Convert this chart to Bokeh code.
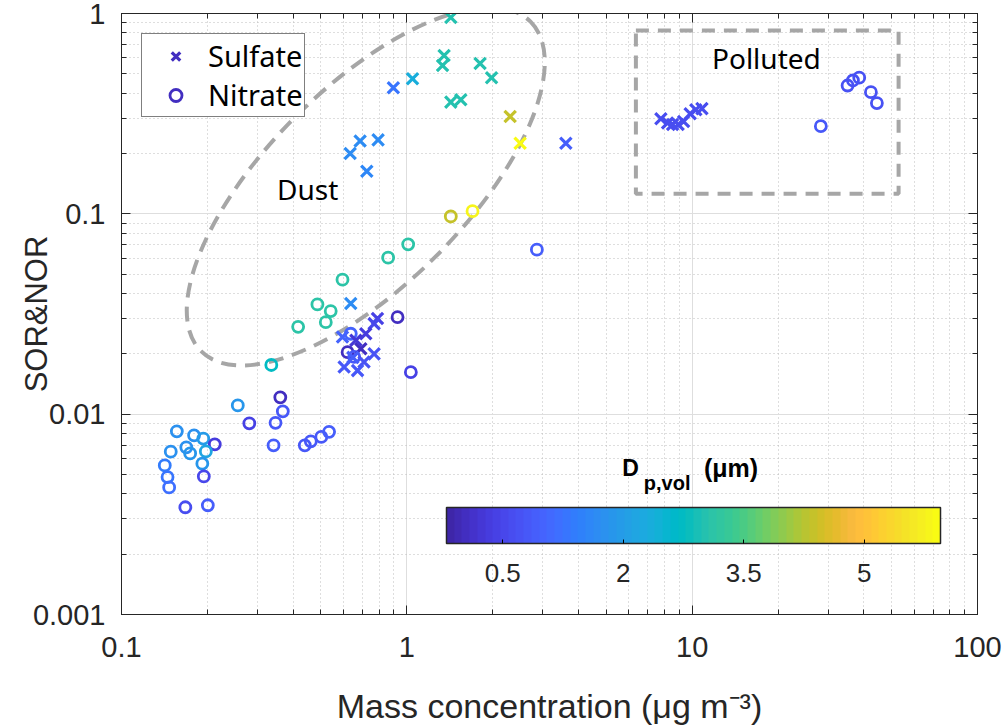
from math import pi

from bokeh.core.properties import value
from bokeh.embed import file_html
from bokeh.models import (BoxAnnotation, ColorBar, ColumnDataSource, FixedTicker,
                          Legend, LegendItem, LinearColorMapper, LogAxis,
                          LogTicker, NumeralTickFormatter)
from bokeh.plotting import figure
from bokeh.resources import INLINE

# sulfate (SOR): mass concentration, ratio, volume median diameter
sulfate_mass = [0.633, 0.686, 0.793, 0.724, 0.897, 1.047, 1.351, 1.334, 1.806,
                1.981, 1.426, 1.546, 1.426, 2.302, 2.495, 3.608,
                0.636, 0.789, 0.768, 0.718, 0.595, 0.690, 0.768, 0.708, 0.603,
                0.672, 0.663, 0.647,
                7.77, 8.20, 8.54, 8.93, 9.33, 9.84, 10.30, 10.82]
sulfate_ratio = [0.200, 0.231, 0.234, 0.163, 0.426, 0.472, 0.617, 0.550, 0.563,
                 0.478, 0.361, 0.371, 0.955, 0.306, 0.225, 0.225,
                 0.0357, 0.0300, 0.0283, 0.0252, 0.0243, 0.0212, 0.0200, 0.0182,
                 0.0172, 0.0165, 0.0234, 0.0192,
                 0.298, 0.284, 0.279, 0.279, 0.289, 0.316, 0.331, 0.335]
sulfate_dp = [1.7, 1.7, 1.7, 1.6, 1.3, 2.3, 3.0, 3.0, 3.0,
              3.0, 3.0, 3.0, 3.0, 4.4, 5.9, 0.9,
              1.7, 0.4, 0.5, 0.3, 1.0, 0.0, 0.7, 0.7, 0.8,
              0.8, 0.2, 0.9,
              0.6, 0.6, 0.6, 0.6, 0.6, 0.6, 0.6, 0.6]

# nitrate (NOR)
nitrate_mass = [1.426, 1.699, 1.011, 0.860, 0.595, 0.486, 0.541, 0.520, 0.416,
                0.335, 2.856, 0.928, 0.620, 1.033, 0.636, 0.654,
                0.1563, 0.1796, 0.1935, 0.2123, 0.1687, 0.1488, 0.174, 0.1975,
                0.192, 0.1418, 0.145, 0.1469, 0.1943, 0.1674, 0.2007,
                0.2556, 0.2805, 0.3602, 0.3676, 0.3466, 0.3411, 0.4389, 0.4607,
                0.5014, 0.534,
                28.25, 35.05, 38.5, 42.31, 44.4, 36.6]
nitrate_ratio = [0.0970, 0.1031, 0.0704, 0.0604, 0.0469, 0.0353, 0.0327, 0.0288,
                 0.0273, 0.0176, 0.0662, 0.0305, 0.0204, 0.0162, 0.0252, 0.0193,
                 0.00821, 0.00784, 0.00755, 0.00707, 0.00683, 0.00650, 0.00637,
                 0.00652, 0.00566, 0.00555, 0.00485, 0.00431, 0.00489, 0.00343,
                 0.00351,
                 0.01106, 0.00900, 0.01213, 0.01033, 0.00905, 0.00699, 0.00699,
                 0.00732, 0.00770, 0.00816,
                 0.274, 0.437, 0.478, 0.405, 0.357, 0.463]
nitrate_dp = [4.4, 5.8, 3.1, 3.1, 3.1, 3.1, 3.1, 3.1, 3.1,
              2.7, 0.9, 0.0, 0.0, 0.4, 1.0, 0.8,
              1.8, 1.8, 2.0, 0.3, 1.8, 1.8, 1.9, 2.2, 1.9, 1.4, 1.3, 1.2, 0.5,
              0.6, 0.9,
              1.9, 0.4, 0.0, 0.8, 0.8, 0.9, 0.8, 0.8, 0.8, 0.9,
              0.8, 0.7, 0.7, 0.7, 0.7, 0.7]

colorbar_ticks = [0.5, 2, 3.5, 5]
dp_low, dp_high = -0.2, 5.95

# parula (64 steps)
parula = [
    "#3e26a8", "#402ab4", "#422ec0", "#4432cb", "#4537d5", "#463cde", "#4741e5", "#4847eb",
    "#484df0", "#4852f4", "#4758f8", "#465efb", "#4563fd", "#4269fe", "#3e6fff", "#3875fe",
    "#327cfc", "#2f81fa", "#2e87f7", "#2d8cf3", "#2b91ef", "#2796eb", "#259be8", "#23a0e5",
    "#20a5e2", "#1ca9e0", "#18addb", "#12b1d6", "#08b5d0", "#01b8ca", "#02bbc3", "#0bbdbc",
    "#19bfb6", "#24c1af", "#2cc4a7", "#31c69f", "#37c897", "#3fca8e", "#4acb84", "#57cc7a",
    "#64cd6f", "#72cd64", "#81cc59", "#8fca4e", "#9dc943", "#abc739", "#b9c431", "#c5c22a",
    "#d1bf27", "#dcbd29", "#e6bb2d", "#f0ba36", "#f8ba3d", "#febe3c", "#fec338", "#fec934",
    "#fcd030", "#fad62d", "#f7dc2a", "#f5e327", "#f5e924", "#f6ef20", "#f7f51b", "#f9fb14",
]

TICK_FONT = "Liberation Sans"
TEXT_FONT = "Noto Sans"
INK = "#262626"

mapper = LinearColorMapper(palette=parula, low=dp_low, high=dp_high)

p = figure(width=1004, height=728, x_axis_type="log", y_axis_type="log",
           x_range=(0.1, 100), y_range=(0.001, 1),
           output_backend="svg", toolbar_location=None,
           min_border_left=121, min_border_right=27,
           min_border_top=13, min_border_bottom=114)
p.background_fill_color = "white"
p.outline_line_color = INK

p.xaxis.ticker = LogTicker(num_minor_ticks=10)
p.yaxis.ticker = LogTicker(num_minor_ticks=10)
p.xaxis.formatter = NumeralTickFormatter(format="0.[000]")
p.yaxis.formatter = NumeralTickFormatter(format="0.[000]")

for ax in (p.xaxis[0], p.yaxis[0]):
    ax.major_tick_in = 9
    ax.major_tick_out = 0
    ax.minor_tick_in = 5
    ax.minor_tick_out = 0
    ax.axis_line_color = INK
    ax.major_tick_line_color = INK
    ax.minor_tick_line_color = INK
    ax.major_label_text_font = TICK_FONT
    ax.major_label_text_font_size = "29px"
    ax.major_label_text_color = INK
    ax.axis_label_text_font = TICK_FONT
    ax.axis_label_text_font_style = "normal"
    ax.axis_label_text_color = INK

p.xaxis.major_label_standoff = 22
p.xaxis.axis_label = "Mass concentration (\u03bcg m\u207b\u00b3)"
p.xaxis.axis_label_text_font_size = "34px"
p.xaxis.axis_label_standoff = 27
p.yaxis.major_label_standoff = 16
p.yaxis.axis_label = "SOR&NOR"
p.yaxis.axis_label_text_font_size = "31px"
p.yaxis.axis_label_standoff = -24

# box with inward ticks on top and right, like the original
for side in ("above", "right"):
    ax = LogAxis(ticker=LogTicker(num_minor_ticks=10),
                 major_tick_in=9, major_tick_out=0,
                 minor_tick_in=5, minor_tick_out=0,
                 major_label_text_font_size="1px", major_label_text_alpha=0,
                 major_label_standoff=0,
                 axis_line_color=INK, major_tick_line_color=INK,
                 minor_tick_line_color=INK)
    p.add_layout(ax, side)

p.grid.grid_line_color = "#dedede"
p.grid.minor_grid_line_color = "#bdbdbd"
p.grid.minor_grid_line_dash = "1 3"

# dust ellipse and polluted box
p.ellipse(x=[0.718], y=[0.137], width=466, height=198, angle=pi / 4,
          width_units="screen", height_units="screen",
          fill_alpha=0, line_color="#a6a6a6", line_width=4, line_dash="15 9")
p.add_layout(BoxAnnotation(left=6.35, right=52.9, bottom=0.126, top=0.823,
                           fill_alpha=0, line_color="#a6a6a6", line_alpha=1,
                           line_width=4, line_dash="13 9"))

nitrate = ColumnDataSource(dict(x=nitrate_mass, y=nitrate_ratio, d=nitrate_dp))
sulfate = ColumnDataSource(dict(x=sulfate_mass, y=sulfate_ratio, d=sulfate_dp))

r_nitrate = p.scatter("x", "y", source=nitrate, marker="circle", size=11,
                      line_width=2.8, fill_color=None,
                      line_color={"field": "d", "transform": mapper})
r_sulfate = p.scatter("x", "y", source=sulfate, marker="x", size=16,
                      line_width=3.2,
                      line_color={"field": "d", "transform": mapper})

# region labels
p.text(x=[0.449, 18.2], y=[0.1324, 0.600], text=["Dust", "Polluted"],
       text_font=value(TEXT_FONT), text_font_size="28px", text_color="black",
       text_align="center", text_baseline="middle")

# colour bar title: D_p,vol (um)
p.text(x=[5.69], y=[0.00536], text=["D"], text_font=value(TICK_FONT),
       text_font_size="23px", text_font_style="bold", text_color="black",
       text_align="left", text_baseline="middle")
p.text(x=[6.77], y=[0.00452], text=["p,vol"], text_font=value(TICK_FONT),
       text_font_size="20px", text_font_style="bold", text_color="black",
       text_align="left", text_baseline="middle")
p.text(x=[11.0], y=[0.00536], text=["(\u03bcm)"], text_font=value(TICK_FONT),
       text_font_size="25px", text_font_style="bold", text_color="black",
       text_align="left", text_baseline="middle")

color_bar = ColorBar(color_mapper=mapper, orientation="horizontal",
                     location=(325, 30), width=494, height=36, padding=0,
                     ticker=FixedTicker(ticks=colorbar_ticks),
                     major_label_text_font=TICK_FONT,
                     major_label_text_font_size="26px",
                     major_label_text_color=INK,
                     label_standoff=20,
                     major_tick_line_color="black", major_tick_in=4,
                     major_tick_out=0,
                     bar_line_color=INK, bar_line_width=1.5,
                     background_fill_alpha=0, border_line_color=None)
p.add_layout(color_bar)

# legend samples taken from the darkest points of each series
legend = Legend(items=[LegendItem(label="Sulfate", renderers=[r_sulfate], index=21),
                       LegendItem(label="Nitrate", renderers=[r_nitrate], index=11)],
                location="top_left", margin=20, padding=2, spacing=0,
                glyph_width=63, glyph_height=30, label_height=30,
                label_standoff=1, label_text_font=TEXT_FONT,
                label_text_font_size="29px", label_text_color="black",
                border_line_color="black", border_line_width=1,
                background_fill_color="white", background_fill_alpha=1)
p.add_layout(legend)

open("out.html", "w").write(file_html(p, INLINE, "SOR NOR"))
